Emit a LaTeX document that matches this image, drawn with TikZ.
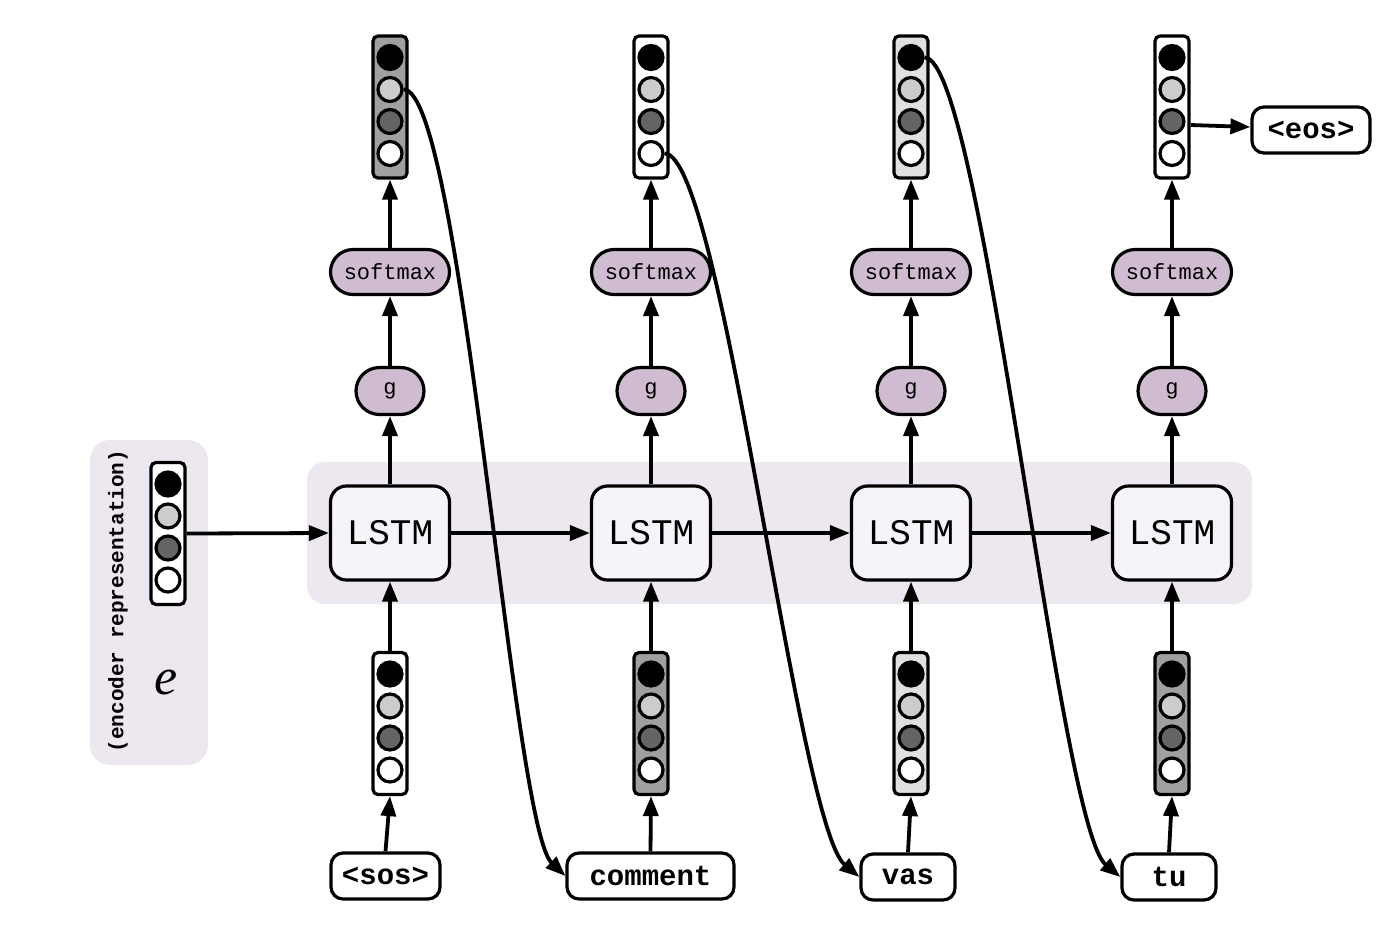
\documentclass[tikz,border=0pt]{standalone}
\usepackage{fontspec}
\setmonofont{Liberation Mono}
\newfontfamily\eserif{Liberation Serif}
\usetikzlibrary{arrows.meta,shapes.misc}
\definecolor{purp}{RGB}{207,188,209}
\definecolor{bandfill}{RGB}{237,232,239}
\definecolor{lstmfill}{RGB}{246,244,248}
\definecolor{midgray}{RGB}{160,160,160}
\definecolor{lightgray}{RGB}{224,224,224}
\definecolor{dotlight}{RGB}{204,204,204}
\definecolor{dotdark}{RGB}{100,100,100}
\tikzset{
  bgbox/.style={fill=bandfill, draw=none, inner sep=0pt},
  lstm/.style={draw, rounded corners=8pt, fill=lstmfill, minimum width=59.5pt, minimum height=47pt, inner sep=0pt, font=\ttfamily\fontsize{18}{20}\selectfont},
  pill/.style={draw, rounded rectangle, fill=purp, inner sep=0pt, font=\ttfamily\fontsize{11}{12}\selectfont},
  word/.style={draw, rounded corners=6pt, fill=white, minimum height=23pt, inner sep=0pt, font=\ttfamily\bfseries\fontsize{14.5}{16}\selectfont},
  vecbox/.style={draw, rounded corners=2.5pt, minimum width=17pt, minimum height=71pt, inner sep=0pt},
  dot/.style={draw, circle, minimum size=12pt, inner sep=0pt},
  arr/.style={line width=1.9pt, -{Triangle[length=10pt,width=7.5pt]}},
}
\newcommand\vecnode[4]{%
  \node[vecbox, fill=#4] (#1) at (#2,#3) {};
  \node[dot, fill=black] (#1-1) at (#2,#3-49.5) {};
  \node[dot, fill=dotlight] (#1-2) at (#2,#3-17.5) {};
  \node[dot, fill=dotdark] (#1-3) at (#2,#3+14.5) {};
  \node[dot, fill=white] (#1-4) at (#2,#3+46.5) {};
}
\begin{document}
\begin{tikzpicture}[x=0.5pt,y=-0.5pt,line width=1.6pt]
\useasboundingbox (0,0) rectangle (1392,928);
% backgrounds
\node[bgbox, rounded corners=10pt, minimum width=59pt, minimum height=162.5pt] (encbg) at (149,602.5) {};
\node[bgbox, rounded corners=9pt, minimum width=472.5pt, minimum height=71pt] (band) at (779.5,533) {};
% encoder
\node[rotate=90, font=\ttfamily\bfseries\fontsize{10.5}{12}\selectfont] (enclabel) at (118,601) {(encoder representation)};
\vecnode{enc}{168}{533.5}{white}
\node[font=\eserif\itshape\fontsize{26}{28}\selectfont] (e) at (166,682) {e};
% columns
\foreach \i/\x in {1/390,2/651,3/911,4/1172}{
  \node[lstm] (l\i) at (\x,533) {LSTM};
  \node[pill, minimum width=34pt, minimum height=23.5pt] (g\i) at (\x,391) {g};
  \node[pill, minimum width=59.5pt, minimum height=22.5pt] (s\i) at (\x,272) {softmax};
}
\vecnode{t1}{390}{107}{midgray}
\vecnode{t2}{651}{107}{white}
\vecnode{t3}{911}{107}{lightgray}
\vecnode{t4}{1172}{107}{white}
\vecnode{b1}{390}{723.5}{white}
\vecnode{b2}{651}{723.5}{midgray}
\vecnode{b3}{911}{723.5}{lightgray}
\vecnode{b4}{1172}{723.5}{midgray}
\node[word, minimum width=54.5pt] (sos) at (385.5,876) {<sos>};
\node[word, minimum width=83.5pt] (comment) at (650.5,876) {comment};
\node[word, minimum width=47pt] (vas) at (908,877) {vas};
\node[word, minimum width=47pt] (tu) at (1169,877) {tu};
\node[word, minimum width=59pt] (eos) at (1311,130) {<eos>};
% vertical arrows
\foreach \i in {1,2,3,4}{
  \draw[arr] (b\i.north) -- (l\i.south);
  \draw[arr] (l\i.north) -- (g\i.south);
  \draw[arr] (g\i.north) -- (s\i.south);
  \draw[arr] (s\i.north) -- (t\i.south);
}
\draw[arr] (sos.north) -- (b1.south);
\draw[arr] (comment.north) -- (b2.south);
\draw[arr] (vas.north) -- (b3.south);
\draw[arr] (tu.north) -- (b4.south);
% horizontal
\draw[arr] (enc.east) -- (l1.west);
\draw[arr] (l1.east) -- (l2.west);
\draw[arr] (l2.east) -- (l3.west);
\draw[arr] (l3.east) -- (l4.west);
\draw[arr] (t4.east |- 0,125) -- (eos.west |- 0,127);
% feedback curves
\draw[arr] (t1-2.east) .. controls (462,89) and (512,825) .. (comment.west);
\draw[arr] (t2-4.east) .. controls (722,153) and (797,825) .. (vas.west);
\draw[arr] (t3-1.east) .. controls (982,57) and (1058,825) .. (tu.west);
\end{tikzpicture}
\end{document}
